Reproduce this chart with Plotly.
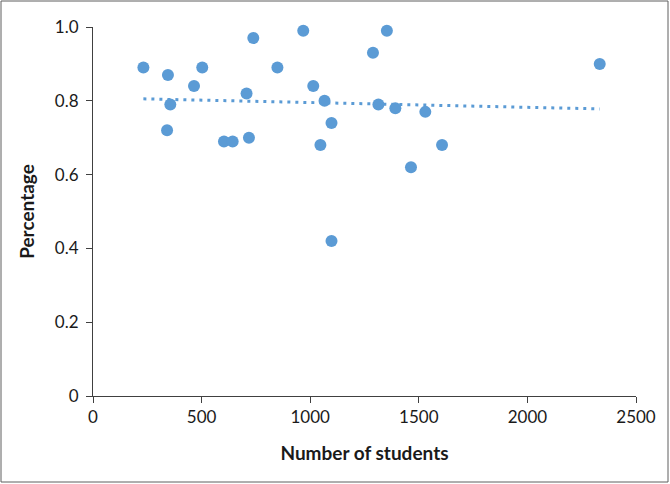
import numpy as np
import plotly.graph_objects as go

students = [232, 345, 356, 341, 465, 503, 603, 643, 707, 718, 738, 849, 968,
            1014, 1066, 1047, 1098, 1098, 1289, 1314, 1353, 1392, 1530, 1464,
            1607, 2333]
percentage = [0.89, 0.87, 0.79, 0.72, 0.84, 0.89, 0.69, 0.69, 0.82, 0.70, 0.97,
              0.89, 0.99, 0.84, 0.80, 0.68, 0.74, 0.42, 0.93, 0.79, 0.99, 0.78,
              0.77, 0.62, 0.68, 0.90]
x_ticks = [0, 500, 1000, 1500, 2000, 2500]
y_ticks = [0, 0.2, 0.4, 0.6, 0.8, 1.0]
y_tick_labels = ["0", "0.2", "0.4", "0.6", "0.8", "1.0"]

blue = "#5B9BD5"
axis_col = "#404040"
text_col = "#1a1a1a"
font = "Lato"

slope, intercept = np.polyfit(students, percentage, 1)
tx = [min(students), max(students)]
ty = [slope * v + intercept for v in tx]

fig = go.Figure()
fig.add_trace(go.Scatter(x=tx, y=ty, mode="lines",
                         line=dict(color=blue, width=3, dash="3px,5px"),
                         hoverinfo="skip", showlegend=False))
fig.add_trace(go.Scatter(x=students, y=percentage, mode="markers",
                         marker=dict(color=blue, size=12, line=dict(width=0)),
                         cliponaxis=False, showlegend=False))

W, H = 670, 484
L, R, T, B = 93, 34, 27, 88
pw, ph = W - L - R, H - T - B

fig.update_layout(
    width=W, height=H,
    margin=dict(l=L, r=R, t=T, b=B),
    paper_bgcolor="white", plot_bgcolor="white",
    font=dict(family=font, size=17, color=text_col),
    xaxis=dict(range=[0, 2500], tickvals=x_ticks, showgrid=False, zeroline=False,
               showline=True, linecolor=axis_col, linewidth=1,
               ticks="outside", ticklen=6, tickcolor=axis_col,
               tickfont=dict(size=17, family=font, color=text_col),
               title=dict(text="<b>Number of students</b>", standoff=20,
                          font=dict(size=19, family=font, color=text_col))),
    yaxis=dict(range=[0, 1.0], tickvals=y_ticks, ticktext=y_tick_labels,
               showgrid=False, zeroline=False,
               showline=True, linecolor=axis_col, linewidth=1,
               ticks="outside", ticklen=6, tickcolor=axis_col,
               ticklabelstandoff=4,
               tickfont=dict(size=17, family=font, color=text_col),
               title=dict(text="<b>Percentage</b>", standoff=15,
                          font=dict(size=19, family=font, color=text_col))),
    shapes=[dict(type="rect", xref="paper", yref="paper",
                 x0=(1 - L) / pw, x1=(W - 2 - L) / pw,
                 y0=(H - B - (H - 2)) / ph, y1=(H - B - 1) / ph,
                 line=dict(color="#5f5f5f", width=1), layer="below")],
)

fig.write_html("out.html", config={"displayModeBar": False},
               post_script="document.body.style.margin='0';document.body.style.padding='0';")
